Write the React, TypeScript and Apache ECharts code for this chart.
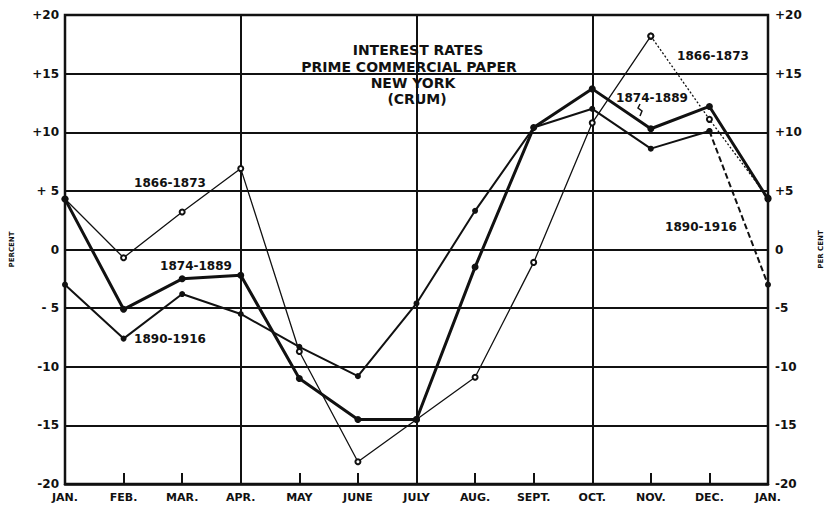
import React, { useEffect, useRef } from "react";
import * as echarts from "echarts";

const months = ["JAN.", "FEB.", "MAR.", "APR.", "MAY", "JUNE", "JULY", "AUG.", "SEPT.", "OCT.", "NOV.", "DEC.", "JAN."];
const s1866 = [4.3, -0.7, 3.2, 6.9, -8.7, -18.1, -14.5, -10.9, -1.1, 10.8, 18.2, 11.1, 4.4];
const s1874 = [4.3, -5.1, -2.5, -2.2, -11.0, -14.5, -14.5, -1.5, 10.4, 13.7, 10.3, 12.2, 4.3];
const s1890 = [-3.0, -7.6, -3.8, -5.5, -8.3, -10.8, -4.6, 3.3, 10.4, 12.0, 8.6, 10.1, -3.0];
const leftTicks = ["-20", "-15", "-10", "- 5", "0", "+ 5", "+10", "+15", "+20"];
const rightTicks = ["-20", "-15", "-10", "-5", "0", "+5", "+10", "+15", "+20"];
const titleLines = ["INTEREST RATES", "PRIME COMMERCIAL PAPER", "NEW YORK", "(CRUM)"];

const INK = "#111";
const FONT = "DejaVu Sans";

function range(arr: number[], from: number, to: number) {
  return arr.map((v, i) => (i >= from && i <= to ? v : null));
}

export default function App() {
  const ref = useRef<HTMLDivElement>(null);
  useEffect(() => {
    if (!ref.current) return;
    const chart = echarts.init(ref.current, undefined, { renderer: "svg" });
    const tickLabel = (arr: string[]) => (v: number) => arr[Math.round((v + 20) / 5)] ?? "";
    const txt = (text: string, x: number, y: number, size: number, align = "center") => ({
      type: "text",
      x,
      y,
      z: 50,
      style: {
        text,
        fill: INK,
        fontFamily: FONT,
        fontWeight: "bold",
        fontSize: size,
        align,
        verticalAlign: "middle",
      },
    });
    chart.setOption({
      animation: false,
      backgroundColor: "#fff",
      grid: {
        left: 59,
        top: 15,
        width: 712,
        height: 469,
        show: true,
        borderColor: INK,
        borderWidth: 2.5,
        backgroundColor: "transparent",
      },
      xAxis: {
        type: "category",
        data: months,
        boundaryGap: false,
        axisLine: { show: true, onZero: false, lineStyle: { color: INK, width: 2.5 } },
        axisTick: { show: true, inside: true, length: 11, interval: 0, lineStyle: { color: INK, width: 2 } },
        axisLabel: {
          interval: 0,
          margin: 8,
          color: INK,
          fontFamily: FONT,
          fontWeight: "bold",
          fontSize: 11,
        },
        splitLine: {
          show: true,
          interval: (i: number) => i % 3 === 0,
          lineStyle: { color: INK, width: 2 },
        },
      },
      yAxis: [
        {
          type: "value",
          min: -20,
          max: 20,
          interval: 5,
          position: "left",
          name: "PERCENT",
          nameLocation: "middle",
          nameRotate: 90,
          nameGap: 50,
          nameTextStyle: { color: INK, fontFamily: FONT, fontWeight: "bold", fontSize: 7 },
          axisLine: { show: false },
          axisTick: { show: false },
          axisLabel: {
            margin: 6,
            color: INK,
            fontFamily: FONT,
            fontWeight: "bold",
            fontSize: 12,
            formatter: tickLabel(leftTicks),
          },
          splitLine: { show: true, lineStyle: { color: INK, width: 2 } },
        },
        {
          type: "value",
          min: -20,
          max: 20,
          interval: 5,
          position: "right",
          name: "PER CENT",
          nameLocation: "middle",
          nameRotate: 90,
          nameGap: 49,
          nameTextStyle: { color: INK, fontFamily: FONT, fontWeight: "bold", fontSize: 7 },
          axisLine: { show: false },
          axisTick: { show: false },
          axisLabel: {
            margin: 7,
            color: INK,
            fontFamily: FONT,
            fontWeight: "bold",
            fontSize: 12,
            formatter: tickLabel(rightTicks),
          },
          splitLine: { show: false },
        },
      ],
      series: [
        {
          name: "1866-1873 dotted",
          type: "line",
          z: 3,
          data: range(s1866, 10, 12),
          symbol: "emptyCircle",
          symbolSize: 5,
          showSymbol: true,
          lineStyle: { color: INK, width: 1.3, type: [2, 2] },
          itemStyle: { color: INK, borderWidth: 1.3 },
        },
        {
          name: "1866-1873",
          type: "line",
          z: 4,
          data: range(s1866, 0, 10),
          symbol: "emptyCircle",
          symbolSize: 5,
          lineStyle: { color: INK, width: 1.3 },
          itemStyle: { color: INK, borderWidth: 1.3 },
        },
        {
          name: "1890-1916 dashed",
          type: "line",
          z: 5,
          data: range(s1890, 11, 12),
          symbol: "circle",
          symbolSize: 6,
          lineStyle: { color: INK, width: 2, type: [6, 3] },
          itemStyle: { color: INK },
        },
        {
          name: "1890-1916",
          type: "line",
          z: 6,
          data: range(s1890, 0, 11),
          symbol: "circle",
          symbolSize: 6,
          lineStyle: { color: INK, width: 2 },
          itemStyle: { color: INK },
        },
        {
          name: "1874-1889",
          type: "line",
          z: 7,
          data: s1874,
          symbol: "circle",
          symbolSize: 7,
          lineStyle: { color: INK, width: 3 },
          itemStyle: { color: INK },
        },
      ],
      graphic: [
        txt(titleLines[0], 418, 50, 14),
        txt(titleLines[1], 409, 67, 14),
        txt(titleLines[2], 413, 83, 14),
        txt(titleLines[3], 417, 99, 14),
        txt("1866-1873", 170, 183, 12),
        txt("1874-1889", 196, 266, 12),
        txt("1890-1916", 170, 339, 12),
        txt("1866-1873", 713, 56, 12),
        txt("1874-1889", 652, 98, 12),
        txt("1890-1916", 701, 227, 12),
        {
          type: "polyline",
          z: 50,
          shape: { points: [[640, 104], [638, 108], [642, 111], [640, 116]] },
          style: { stroke: INK, lineWidth: 1.5, fill: "none" },
        },
      ],
    });
    return () => chart.dispose();
  }, []);
  return <div ref={ref} style={{ position: "fixed", left: 0, top: 0, width: 832, height: 505 }} />;
}
